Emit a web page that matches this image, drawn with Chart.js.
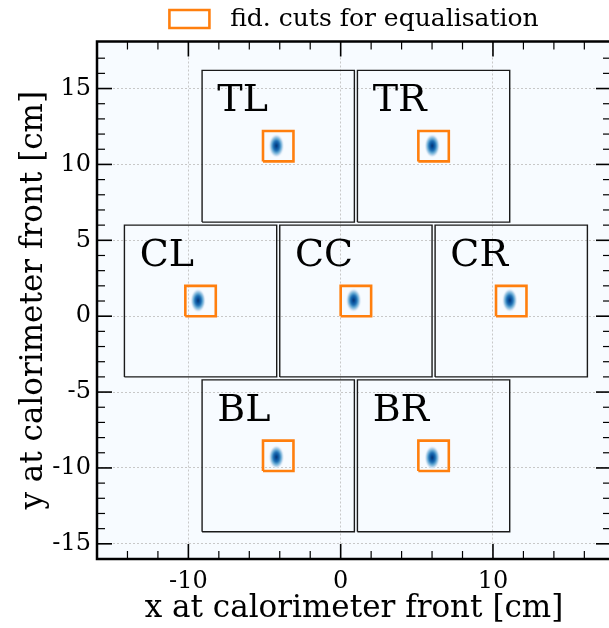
<!DOCTYPE html>
<html>
<head>
<meta charset="utf-8">
<script src="https://cdn.jsdelivr.net/npm/chart.js@4.4.1/dist/chart.umd.min.js"></script>
<style>
  html, body { margin: 0; padding: 0; background: #fff; overflow: hidden; }
  #wrap { width: 609px; height: 628px; overflow: hidden; }
</style>
</head>
<body>
<div id="wrap"><canvas id="c" width="616" height="628"></canvas></div>
<script>
// calorimeter modules (lower-left corner, cm), side length 10 cm
const moduleNames  = ['TL', 'TR', 'CL', 'CC', 'CR', 'BL', 'BR'];
const moduleLeft   = [-9.1, 1.1, -14.2, -4.0, 6.2, -9.1, 1.1];
const moduleBottom = [6.2, 6.2, -4.0, -4.0, -4.0, -14.2, -14.2];
const moduleSize   = 10;

// fiducial cuts (centre, cm), side length 2 cm
const cutCenterX = [-4.1, 6.1, -9.2, 1.0, 11.2, -4.1, 6.1];
const cutCenterY = [11.2, 11.2, 1.0, 1.0, 1.0, -9.2, -9.2];
const cutSize    = 2;

// beam spot centres per run
const beamX = [-4.22, 6.01, -9.36, 0.85, 11.1, -4.22, 6.01];
const beamY = [11.23, 11.23, 1.03, 1.05, 1.05, -9.28, -9.32];

// axis ticks
const xMajor = [-10, 0, 10];
const xMinor = [-14, -12, -8, -6, -4, -2, 2, 4, 6, 8, 12, 14, 16];
const yMajor = [-15, -10, -5, 0, 5, 10, 15];
const yMinor = [-14, -13, -12, -11, -9, -8, -7, -6, -4, -3, -2, -1, 1, 2, 3, 4, 6, 7, 8, 9, 11, 12, 13, 14, 16, 17];

const legendLabel = 'fid. cuts for equalisation';
const serif = 'DejaVu Serif';

function rectPath(x0, y0, w) {
    return [
        {x: x0, y: y0}, {x: x0 + w, y: y0}, {x: x0 + w, y: y0 + w},
        {x: x0, y: y0 + w}, {x: x0, y: y0}
    ];
}

// little Blues-coloured spot used as point style for the beam profile
function makeBlob() {
    const c = document.createElement('canvas');
    c.width = 16; c.height = 26;
    const g = c.getContext('2d');
    g.translate(8, 13);
    g.scale(1, 1.55);
    const grad = g.createRadialGradient(0, 0, 0, 0, 0, 7.8);
    grad.addColorStop(0, '#08306b');
    grad.addColorStop(0.2, '#08519c');
    grad.addColorStop(0.4, '#2171b5');
    grad.addColorStop(0.6, '#6baed6');
    grad.addColorStop(0.8, '#c6dbef');
    grad.addColorStop(1, 'rgba(247,251,255,0)');
    g.fillStyle = grad;
    g.beginPath();
    g.arc(0, 0, 7.8, 0, Math.PI * 2);
    g.fill();
    return c;
}

const datasets = [];
// beam spots (under everything)
datasets.push({
    label: 'beam',
    data: beamX.map((x, i) => ({x: x, y: beamY[i]})),
    pointStyle: makeBlob(),
    pointRadius: 3,
    showLine: false,
    order: 3
});
moduleNames.forEach((n, i) => {
    datasets.push({
        label: n,
        data: rectPath(moduleLeft[i], moduleBottom[i], moduleSize),
        showLine: true,
        borderColor: '#1a1a1a',
        borderWidth: 1.4,
        pointRadius: 0,
        fill: false,
        order: 2
    });
});
const firstCut = datasets.length;
moduleNames.forEach((n, i) => {
    datasets.push({
        label: '\u2004' + legendLabel,
        data: rectPath(cutCenterX[i] - cutSize / 2, cutCenterY[i] - cutSize / 2, cutSize),
        showLine: true,
        borderColor: '#ff7f0e',
        backgroundColor: 'rgba(255,255,255,0)',
        borderWidth: 2.6,
        pointRadius: 0,
        fill: false,
        order: 1
    });
});

// plot background (empty histogram bins)
const bgPlugin = {
    id: 'bg',
    beforeDraw(chart) {
        const a = chart.chartArea, ctx = chart.ctx;
        ctx.save();
        ctx.fillStyle = '#f7fbff';
        ctx.fillRect(a.left, a.top, a.right - a.left, a.bottom - a.top);
        ctx.restore();
    }
};

// module names
const namePlugin = {
    id: 'names',
    afterDatasetsDraw(chart) {
        const ctx = chart.ctx, xs = chart.scales.x, ys = chart.scales.y;
        ctx.save();
        ctx.font = '38px "' + serif + '"';
        ctx.fillStyle = '#000';
        ctx.textBaseline = 'alphabetic';
        moduleNames.forEach((n, i) => {
            ctx.fillText(n, xs.getPixelForValue(moduleLeft[i] + 1.0),
                ys.getPixelForValue(moduleBottom[i] + moduleSize - 2.7));
        });
        ctx.restore();
    }
};

// frame with inward ticks on all four sides
const framePlugin = {
    id: 'frame',
    afterDraw(chart) {
        const ctx = chart.ctx, a = chart.chartArea;
        const xs = chart.scales.x, ys = chart.scales.y;
        ctx.save();
        ctx.strokeStyle = '#000';
        const tick = (x1, y1, x2, y2, w) => {
            ctx.lineWidth = w;
            ctx.beginPath(); ctx.moveTo(x1, y1); ctx.lineTo(x2, y2); ctx.stroke();
        };
        xMajor.forEach(v => {
            const p = xs.getPixelForValue(v);
            tick(p, a.bottom, p, a.bottom - 15, 1.6);
            tick(p, a.top, p, a.top + 15, 1.6);
        });
        xMinor.forEach(v => {
            const p = xs.getPixelForValue(v);
            tick(p, a.bottom, p, a.bottom - 8, 1.2);
            tick(p, a.top, p, a.top + 8, 1.2);
        });
        yMajor.forEach(v => {
            const p = ys.getPixelForValue(v);
            tick(a.left, p, a.left + 15, p, 1.6);
            tick(a.right, p, a.right - 15, p, 1.6);
        });
        yMinor.forEach(v => {
            const p = ys.getPixelForValue(v);
            tick(a.left, p, a.left + 8, p, 1.2);
            tick(a.right, p, a.right - 8, p, 1.2);
        });
        ctx.lineWidth = 2.5;
        ctx.strokeRect(a.left, a.top, a.right - a.left, a.bottom - a.top);
        ctx.restore();
    }
};

const ctx = document.getElementById('c').getContext('2d');
const chart = new Chart(ctx, {
    type: 'scatter',
    data: {datasets: datasets},
    plugins: [bgPlugin, namePlugin, framePlugin],
    options: {
        responsive: false,
        animation: false,
        events: [],
        layout: {padding: {left: 0, right: 5, top: 0, bottom: 0}},
        plugins: {
            tooltip: {enabled: false},
            legend: {
                position: 'top',
                fullSize: false,
                align: 'center',
                labels: {
                    font: {family: serif, size: 25},
                    color: '#000',
                    boxWidth: 40,
                    boxHeight: 18,
                    padding: 6.5,
                    filter: item => item.datasetIndex === firstCut
                }
            }
        },
        scales: {
            x: {
                type: 'linear',
                min: -16.0,
                max: 17.75,
                afterBuildTicks: s => { s.ticks = xMajor.map(v => ({value: v})); },
                afterFit: s => { s.height = 69; },
                ticks: {
                    font: {family: serif, size: 24},
                    color: '#000',
                    padding: 8,
                    maxRotation: 0,
                    callback: v => String(v)
                },
                grid: {color: '#c8c8c8', lineWidth: 1, drawTicks: false},
                border: {display: false, dash: [2, 2]},
                title: {
                    display: true,
                    text: 'x at calorimeter front [cm]',
                    font: {family: serif, size: 31},
                    color: '#000',
                    padding: {top: 0, bottom: 0}
                }
            },
            y: {
                type: 'linear',
                min: -16.0,
                max: 18.1,
                afterBuildTicks: s => { s.ticks = yMajor.map(v => ({value: v})); },
                afterFit: s => { s.width = 97; },
                ticks: {
                    font: {family: serif, size: 24},
                    color: '#000',
                    padding: 6,
                    callback: v => String(v)
                },
                grid: {color: '#c8c8c8', lineWidth: 1, drawTicks: false},
                border: {display: false, dash: [2, 2]},
                title: {
                    display: true,
                    text: 'y at calorimeter front [cm]',
                    font: {family: serif, size: 31},
                    color: '#000',
                    padding: {top: 15, bottom: 0}
                }
            }
        }
    }
});
</script>
</body>
</html>
